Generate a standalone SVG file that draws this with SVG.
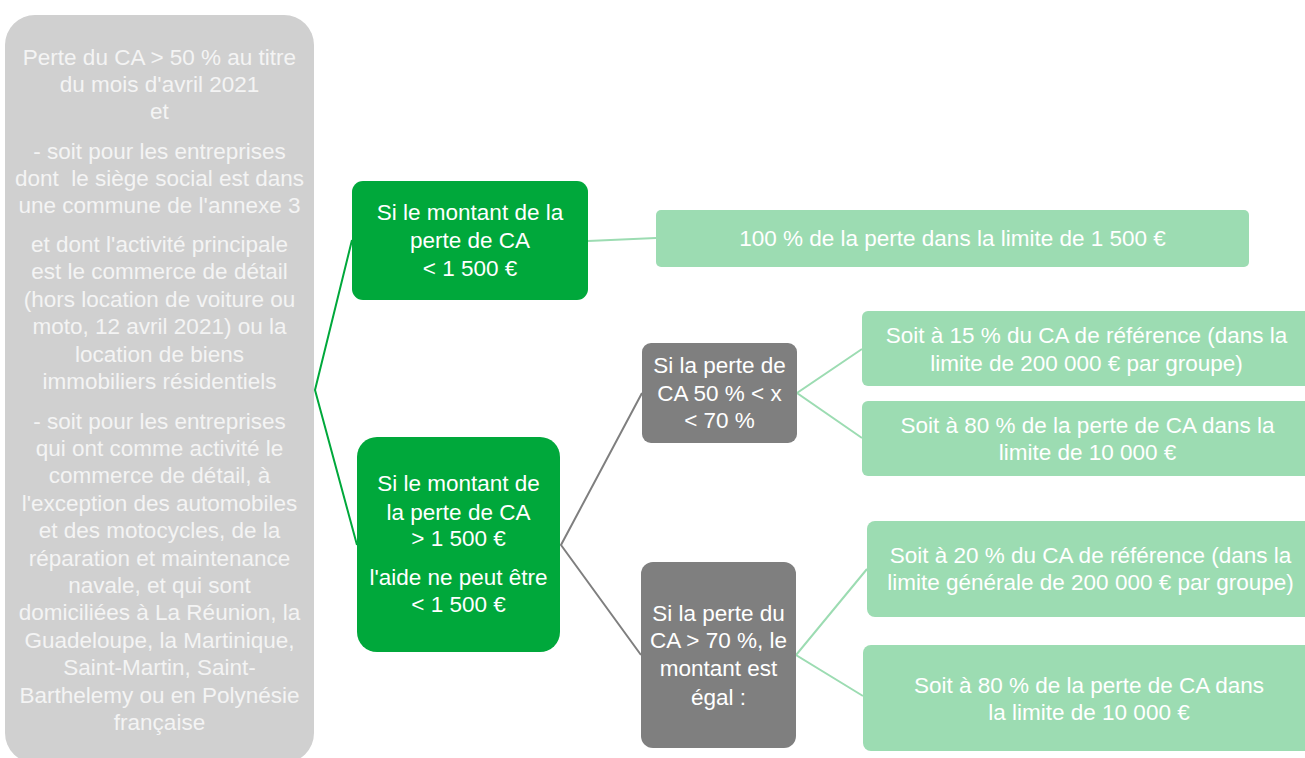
<svg xmlns="http://www.w3.org/2000/svg" width="1305" height="758" viewBox="0 0 1305 758">
<style>
text{font-family:"Liberation Sans",Arial,sans-serif;font-size:22.5px;text-anchor:middle;fill:#ffffff;white-space:pre}
.root rect{fill:#d0d0d0}
.root text{fill:#f4f4f4}
.green rect{fill:#00a83b}
.gray rect{fill:#7f7f7f}
.light rect{fill:#9cdcb2}
.c-green{stroke:#00a83b;stroke-width:2;fill:none}
.c-gray{stroke:#7f7f7f;stroke-width:2;fill:none}
.c-light{stroke:#9cdcb2;stroke-width:2;fill:none}
</style>
<rect width="1305" height="758" fill="#ffffff"/>
<g id="connectors">
<path class="c-green" d="M352,240 L315,390 L357,545"/>
<path class="c-light" d="M588,241 L656,238"/>
<path class="c-gray" d="M642,393 L561,545 L641,655"/>
<path class="c-light" d="M862,349 L797,393 L862,438"/>
<path class="c-light" d="M867,569 L796,655 L863,696"/>
</g>
<g id="root" class="root">
<rect x="5" y="15" width="309" height="748" rx="30"/>
<text x="159.5" y="65">Perte du CA &gt; 50 % au titre</text>
<text x="159.5" y="92">du mois d'avril 2021</text>
<text x="159.5" y="119">et</text>
<text x="159.5" y="159">- soit pour les entreprises</text>
<text x="159.5" y="186">dont  le siège social est dans</text>
<text x="159.5" y="213">une commune de l'annexe 3</text>
<text x="159.5" y="252">et dont l'activité principale</text>
<text x="159.5" y="279">est le commerce de détail</text>
<text x="159.5" y="307">(hors location de voiture ou</text>
<text x="159.5" y="334">moto, 12 avril 2021) ou la</text>
<text x="159.5" y="362">location de biens</text>
<text x="159.5" y="389">immobiliers résidentiels</text>
<text x="159.5" y="429">- soit pour les entreprises</text>
<text x="159.5" y="456">qui ont comme activité le</text>
<text x="159.5" y="483">commerce de détail, à</text>
<text x="159.5" y="511">l'exception des automobiles</text>
<text x="159.5" y="538">et des motocycles, de la</text>
<text x="159.5" y="566">réparation et maintenance</text>
<text x="159.5" y="593">navale, et qui sont</text>
<text x="159.5" y="620">domiciliées à La Réunion, la</text>
<text x="159.5" y="648">Guadeloupe, la Martinique,</text>
<text x="159.5" y="675">Saint-Martin, Saint-</text>
<text x="159.5" y="703">Barthelemy ou en Polynésie</text>
<text x="159.5" y="730">française</text>
</g>
<g id="box-lt1500" class="green">
<rect x="352" y="181" width="236" height="119" rx="11"/>
<text x="470" y="220">Si le montant de la</text>
<text x="470" y="248">perte de CA</text>
<text x="470" y="276">&lt; 1 500 €</text>
</g>
<g id="box-gt1500" class="green">
<rect x="357" y="437" width="203" height="215" rx="20"/>
<text x="458.5" y="491">Si le montant de</text>
<text x="458.5" y="520">la perte de CA</text>
<text x="458.5" y="546">&gt; 1 500 €</text>
<text x="458.5" y="585">l'aide ne peut être</text>
<text x="458.5" y="612">&lt; 1 500 €</text>
</g>
<g id="box-100pct" class="light">
<rect x="656" y="210" width="593" height="57" rx="5"/>
<text x="952.5" y="246">100 % de la perte dans la limite de 1 500 €</text>
</g>
<g id="box-50-70" class="gray">
<rect x="642" y="343" width="155" height="100" rx="9"/>
<text x="719.5" y="373">Si la perte de</text>
<text x="719.5" y="401">CA 50 % &lt; x</text>
<text x="719.5" y="428">&lt; 70 %</text>
</g>
<g id="box-gt70" class="gray">
<rect x="641" y="562" width="155" height="186" rx="12"/>
<text x="718.5" y="621">Si la perte du</text>
<text x="718.5" y="648">CA &gt; 70 %, le</text>
<text x="718.5" y="676">montant est</text>
<text x="718.5" y="705">égal :</text>
</g>
<g id="box-15pct" class="light">
<rect x="862" y="311" width="460" height="75" rx="6"/>
<text x="1086.5" y="343">Soit à 15 % du CA de référence (dans la</text>
<text x="1086.5" y="371">limite de 200 000 € par groupe)</text>
</g>
<g id="box-80pct-a" class="light">
<rect x="862" y="401" width="460" height="75" rx="6"/>
<text x="1087.5" y="433">Soit à 80 % de la perte de CA dans la</text>
<text x="1087.5" y="460">limite de 10 000 €</text>
</g>
<g id="box-20pct" class="light">
<rect x="867" y="521" width="455" height="96" rx="8"/>
<text x="1090.5" y="563">Soit à 20 % du CA de référence (dans la</text>
<text x="1090.5" y="590">limite générale de 200 000 € par groupe)</text>
</g>
<g id="box-80pct-b" class="light">
<rect x="863" y="645" width="459" height="106" rx="8"/>
<text x="1089" y="693">Soit à 80 % de la perte de CA dans</text>
<text x="1089" y="720">la limite de 10 000 €</text>
</g>
</svg>
